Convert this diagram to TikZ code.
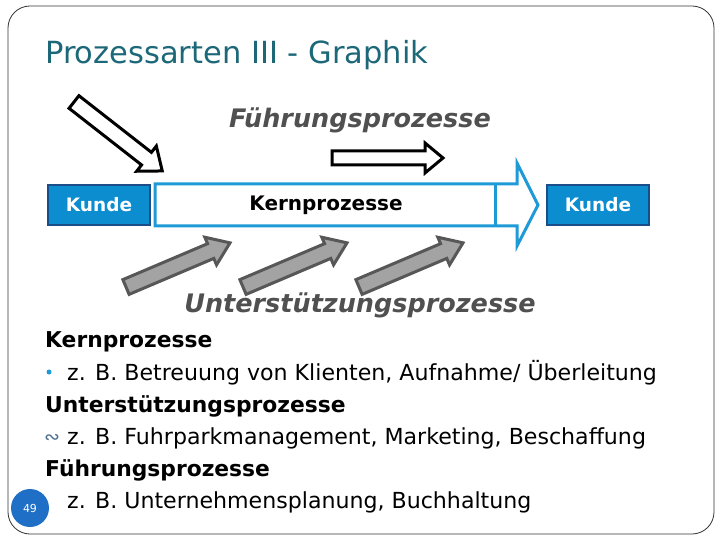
\documentclass[tikz,border=0pt]{standalone}
\usepackage{fontspec}
\setmainfont{DejaVu Sans}
\usetikzlibrary{positioning}

\definecolor{titleteal}{HTML}{1C6878}
\definecolor{kundefill}{HTML}{0C8DD0}
\definecolor{kundeedge}{HTML}{1B4E88}
\definecolor{kernblue}{HTML}{1E9AD6}
\definecolor{labelgray}{HTML}{505050}
\definecolor{supfill}{HTML}{A3A3A3}
\definecolor{supedge}{HTML}{575757}
\definecolor{pageblue}{HTML}{1F6FC6}
\definecolor{curlblue}{HTML}{4A6E8E}

% block arrow along the x axis: length, shaft half width, head half width, head length
\newcommand{\blkarrow}[4]{(0,-#2) -- ({#1-#4},-#2) -- ({#1-#4},-#3) -- (#1,0) -- ({#1-#4},#3) -- ({#1-#4},#2) -- (0,#2) -- cycle}

\begin{document}
\begin{tikzpicture}[
    x=1pt, y=-1pt,
    kundebox/.style={rectangle, draw=kundeedge, fill=kundefill, line width=2.5pt, minimum width=102pt, minimum height=40pt, text=white, font=\fontsize{18.5}{20}\selectfont\bfseries},
    kernarrow/.style={draw=kernblue, fill=white, line width=3pt, line join=miter},
    leadarrow/.style={draw=black, fill=white, line width=3pt, line join=miter},
    suparrow/.style={draw=supedge, fill=supfill, line width=3pt, line join=miter},
    grouplabel/.style={text=labelgray, font=\fontsize{25.5}{28}\selectfont\bfseries\itshape, anchor=base},
    headline/.style={anchor=base west, inner sep=0pt, font=\fontsize{21.8}{24}\selectfont\bfseries},
    itemline/.style={anchor=base west, inner sep=0pt, font=\fontsize{22.1}{24}\selectfont}
]
    \useasboundingbox (0,0) rectangle (720,540);

    % Frame and title
    \draw[line width=0.8pt, black!80, rounded corners=22pt] (8,6) rectangle (714,534);
    \node[anchor=base west, inner sep=0pt, text=titleteal, font=\fontsize{30.5}{34}\selectfont] (title) at (45,64) {Prozessarten III - Graphik};

    % --- Fuehrungsprozesse ---
    \node[grouplabel] (fuehr) at (360,128) {Führungsprozesse};
    \draw[leadarrow, shift={(74,102)}, rotate=-38] \blkarrow{112}{8}{16}{20};
    \draw[leadarrow, shift={(332,158)}] \blkarrow{111}{7}{15}{18};

    % --- Kernprozesse ---
    \draw[kernarrow] (155,184) -- (517,184) -- (517,163) -- (538,205) -- (517,246) -- (517,226) -- (155,226) -- cycle;
    \draw[kernarrow] (495,184) -- (495,226);
    \node[font=\fontsize{20}{22}\selectfont\bfseries] (kern) at (326,205) {Kernprozesse};
    \node[kundebox] (kundeL) at (99,205) {Kunde};
    \node[kundebox] (kundeR) at (598,205) {Kunde};

    % --- Unterstuetzungsprozesse ---
    \foreach \sx in {126,243,359}
        \draw[suparrow, shift={(\sx,287)}, rotate=23] \blkarrow{113}{8}{15}{21};
    \node[grouplabel] (unter) at (360,312) {Unterstützungsprozesse};

    % Text lines
    \node[headline] (h1) at (45,347) {Kernprozesse};
    \node[circle, fill=kernblue, inner sep=0pt, minimum size=5pt] (bul1) at (49,372) {};
    \node[itemline] (t1) at (67,380) {z. B. Betreuung von Klienten, Aufnahme/ Überleitung};
    \node[headline] (h2) at (45,412) {Unterstützungsprozesse};
    \node[anchor=base west, inner sep=0pt, text=curlblue, font=\fontsize{19}{20}\selectfont] (bul2) at (44,443) {∾};
    \node[itemline] (t2) at (67,444) {z. B. Fuhrparkmanagement, Marketing, Beschaffung};
    \node[headline] (h3) at (45,476) {Führungsprozesse};
    \node[itemline] (t3) at (67,508) {z. B. Unternehmensplanung, Buchhaltung};

    % page number
    \node[circle, fill=pageblue, minimum size=38pt, inner sep=0pt, text=white, font=\fontsize{11}{12}\selectfont] (page) at (30,508) {49};

\end{tikzpicture}
\end{document}
